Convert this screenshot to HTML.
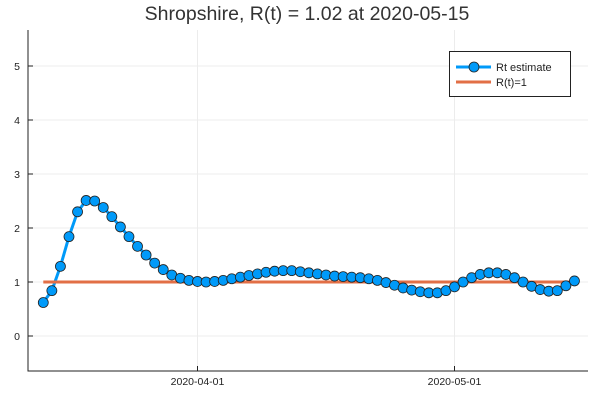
<!DOCTYPE html>
<html><head><meta charset="utf-8"><style>
body{margin:0;background:#fff}
svg{display:block;font-family:"Liberation Sans",sans-serif}
</style></head><body>
<svg width="600" height="400">
<text x="307" y="20" font-size="19.5" text-anchor="middle" fill="#333">Shropshire, R(t) = 1.02 at 2020-05-15</text>
<g id="grid"></g>
<g id="axes"></g>
<g id="series"></g>
<g>
<rect x="449.5" y="51.5" width="121" height="45" fill="#fff" stroke="#222"/>
<line x1="456" y1="67" x2="491" y2="67" stroke="#009af9" stroke-width="3"/>
<circle cx="474" cy="67" r="5" fill="#009af9" stroke="#222" stroke-width="0.8"/>
<text x="496" y="71" font-size="11" fill="#222">Rt estimate</text>
<line x1="456" y1="82" x2="491" y2="82" stroke="#e26f46" stroke-width="3"/>
<text x="496" y="86" font-size="11" fill="#222">R(t)=1</text>
</g>
</svg>
<script>
const startDay = -18; // 2020-03-14 relative to 2020-04-01
const rtValues = [0.62,0.84,1.29,1.84,2.30,2.51,2.50,2.38,2.21,2.02,1.84,1.66,1.50,1.35,1.23,1.13,1.07,1.03,1.01,1.00,1.01,1.03,1.06,1.09,1.12,1.15,1.18,1.20,1.21,1.21,1.19,1.17,1.15,1.13,1.11,1.10,1.09,1.08,1.06,1.03,0.99,0.94,0.89,0.85,0.82,0.80,0.80,0.84,0.91,1.00,1.08,1.14,1.17,1.17,1.14,1.08,1.00,0.92,0.86,0.83,0.84,0.93,1.02];
const yTicks = [0,1,2,3,4,5];
const xTickDays = [0,30];
const xTickLabels = ["2020-04-01","2020-05-01"];
const refValue = 1;

const NS="http://www.w3.org/2000/svg";
const L=28,R=588,T=30,B=371;
const xs=d=>197.5+d*8.567;
const ys=v=>336-v*54;
function mk(tag,attrs,parent){const e=document.createElementNS(NS,tag);for(const k in attrs)e.setAttribute(k,attrs[k]);document.getElementById(parent).appendChild(e);return e;}
yTicks.forEach(t=>{
  const g=mk('line',{x1:L,x2:R,y1:ys(t),y2:ys(t),stroke:'#ececec','stroke-width':1},'grid');
  
  
  const tk=mk('line',{x1:L,x2:L+5,y1:ys(t),y2:ys(t),stroke:'#222'},'axes');
  
  
  const tx=mk('text',{x:L-8,y:ys(t)+4,'font-size':10.5,'text-anchor':'end',fill:'#222'},'axes');
  tx.textContent=t;
  
  
});
xTickDays.forEach((d,i)=>{
  const g=mk('line',{x1:xs(d),x2:xs(d),y1:T,y2:B,stroke:'#ececec'},'grid');
  
  
  const tk=mk('line',{x1:xs(d),x2:xs(d),y1:B,y2:B-5,stroke:'#222'},'axes');
  
  
  const tx=mk('text',{x:xs(d),y:B+14,'font-size':10.5,'text-anchor':'middle',fill:'#222'},'axes');
  tx.textContent=xTickLabels[i];
  
  
});
const ax=mk('path',{d:`M${L},${T} V${B} H${R}`,fill:'none',stroke:'#222','stroke-width':1},'axes');


const pts=rtValues.map((v,i)=>[xs(startDay+i),ys(v)]);
const ln=mk('polyline',{points:pts.map(p=>p.join(',')).join(' '),fill:'none',stroke:'#009af9','stroke-width':3},'series');


const ref=mk('line',{x1:xs(startDay),x2:xs(startDay+rtValues.length-1),y1:ys(refValue),y2:ys(refValue),stroke:'#e26f46','stroke-width':3},'series');


pts.forEach(p=>{
  const c=mk('circle',{cx:p[0],cy:p[1],r:5,fill:'#009af9',stroke:'#222','stroke-width':0.8},'series');
  
  
});
</script>
</body></html>
